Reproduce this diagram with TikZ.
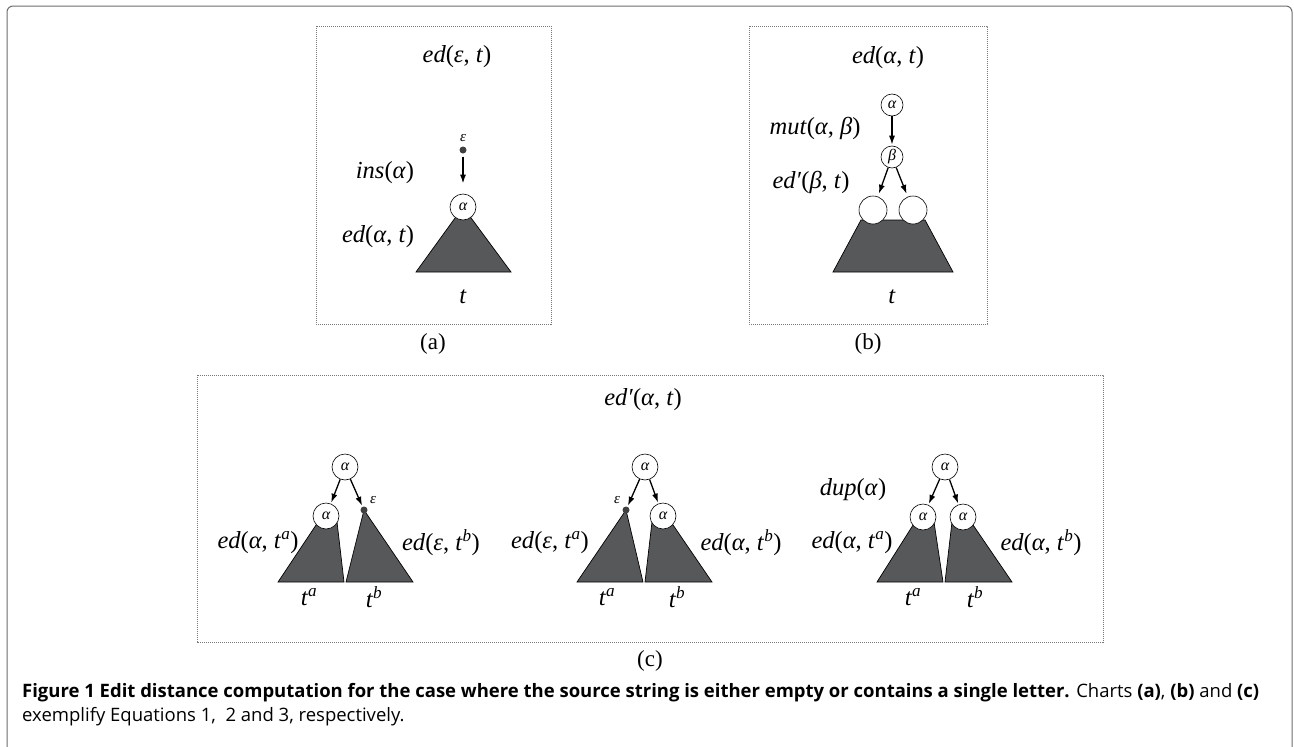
\documentclass[tikz,border=0pt]{standalone}
\usepackage{fontspec}
\usepackage{graphicx}
\setmainfont{Liberation Serif}
\newfontfamily\capfont{Open Sans}
\usetikzlibrary{arrows.meta}
\definecolor{treefill}{RGB}{87,88,90}
\definecolor{framegray}{RGB}{110,110,110}
\definecolor{dashgray}{RGB}{120,120,120}
\newsavebox\capone
\newsavebox\captwo
\newlength\capw
\newcommand\prm{′}
\begin{document}
\sbox\capone{\fontsize{18.5}{22}\capfont\textbf{Figure 1 Edit distance computation for the case where the source string is either empty or contains a single letter.} Charts \textbf{(a)}, \textbf{(b)} and \textbf{(c)}}%
\sbox\captwo{\fontsize{18.5}{22}\capfont exemplify Equations 1,\ \ 2 and 3, respectively.}%
\setlength\capw{\wd\capone}%
\pgfmathsetmacro\capf{1237/\capw}%
\begin{tikzpicture}[x=1pt,y=-1pt,
  lab/.style={font=\fontsize{24.5}{28}\selectfont, inner sep=0pt},
  sublab/.style={font=\fontsize{23}{26}\selectfont, inner sep=0pt},
  nd/.style={circle, draw, fill=white, line width=0.6pt, inner sep=0pt, minimum size=#1, font=\fontsize{16}{16}\selectfont\itshape},
  nd/.default=26pt,
  dotnode/.style={circle, fill=black!75, inner sep=0pt, minimum size=7pt},
  epslab/.style={font=\fontsize{15}{15}\selectfont\itshape, inner sep=0pt},
  tree/.style={fill=treefill, draw=black, line width=0.7pt},
  arr/.style={-{Latex[length=9pt,width=6pt]}, line width=1.3pt, shorten >=1pt},
  dbox/.style={draw=dashgray, line width=0.9pt, dash pattern=on 1.2pt off 0.8pt},
]
\useasboundingbox (0,0) rectangle (1294,747);
\fill[white] (0,0) rectangle (1294,747);
% outer frame
\draw[framegray, line width=1pt, rounded corners=6pt] (7,770) -- (7,6) -- (1292,6) -- (1292,770);

% dashed boxes
\draw[dbox] (316,26) rectangle (551,324);
\draw[dbox] (749,26) rectangle (987,324);
\draw[dbox] (197,375) rectangle (1103,642);
\node[sublab] (capa) at (433,344) {(a)};
\node[sublab] (capb) at (868,344) {(b)};
\node[sublab] (capc) at (650,661) {(c)};

% ---------- (a)
\node[lab] (ta) at (457,57) {\textit{ed}(\textit{ε}, \textit{t})};
\fill[tree] (463,207) -- (416,272) -- (511,272) -- cycle;
\node[nd] (a1) at (463,207) {α};
\node[dotnode] (ea) at (463,150) {};
\node[epslab] (eal) at (463,138) {ε};
\draw[arr, line width=1.6pt, shorten <=3pt, shorten >=10pt] (ea) -- (a1);
\node[lab] (insa) at (385,173) {\textit{ins}(\textit{α})};
\node[lab] (eda) at (378,237) {\textit{ed}(\textit{α}, \textit{t})};
\node[lab] (tla) at (463,297) {\textit{t}};

% ---------- (b)
\node[lab] (tb) at (888,58) {\textit{ed}(\textit{α}, \textit{t})};
\fill[tree] (861,220) -- (833,272) -- (953,272) -- (925,220) -- cycle;
\node[nd=22pt] (b1) at (892,105) {α};
\node[nd=22pt] (b2) at (892,157) {β};
\node[nd=28pt] (b3) at (873,210) {};
\node[nd=28pt] (b4) at (913,210) {};
\draw[arr] (b1) -- (b2);
\draw[arr, shorten >=3pt] (b2) -- (b3);
\draw[arr, shorten >=3pt] (b2) -- (b4);
\node[lab] (mutb) at (815,128) {\textit{mut}(\textit{α}, \textit{β})};
\node[lab] (edb) at (811,182) {\textit{ed\prm}(\textit{β}, \textit{t})};
\node[lab] (tlb) at (892,297) {\textit{t}};

% ---------- (c)
\node[lab] (tc) at (643,400) {\textit{ed\prm}(\textit{α}, \textit{t})};

% tree 1
\fill[tree] (278,582) -- (344,582) -- (337,522) -- (318,522) -- cycle;
\fill[tree] (364,510) -- (346,582) -- (413,582) -- cycle;
\node[nd] (r1) at (345,467) {α};
\node[nd] (c1a) at (326,516) {α};
\node[dotnode] (c1b) at (364,510) {};
\node[epslab] (e1) at (373,500) {ε};
\draw[arr] (r1) -- (c1a);
\draw[arr] (r1) -- (c1b);
\node[lab] (l1a) at (258,543) {\textit{ed}(\textit{α}, \textit{t}\textsuperscript{\textit{a}})};
\node[lab] (l1b) at (441,543) {\textit{ed}(\textit{ε}, \textit{t}\textsuperscript{\textit{b}})};
\node[lab] (t1a) at (309,597) {\textit{t}\textsuperscript{\textit{a}}};
\node[lab] (t1b) at (374,597) {\textit{t}\textsuperscript{\textit{b}}};

% tree 2
\fill[tree] (626,510) -- (577,582) -- (643,582) -- cycle;
\fill[tree] (645,582) -- (712,582) -- (671,522) -- (652,522) -- cycle;
\node[nd] (r2) at (645,467) {α};
\node[dotnode] (c2a) at (626,510) {};
\node[nd] (c2b) at (663,516) {α};
\node[epslab] (e2) at (617,500) {ε};
\draw[arr] (r2) -- (c2a);
\draw[arr] (r2) -- (c2b);
\node[lab] (l2a) at (550,543) {\textit{ed}(\textit{ε}, \textit{t}\textsuperscript{\textit{a}})};
\node[lab] (l2b) at (741,543) {\textit{ed}(\textit{α}, \textit{t}\textsuperscript{\textit{b}})};
\node[lab] (t2a) at (607,597) {\textit{t}\textsuperscript{\textit{a}}};
\node[lab] (t2b) at (677,597) {\textit{t}\textsuperscript{\textit{b}}};

% tree 3
\fill[tree] (877,582) -- (943,582) -- (934,522) -- (915,522) -- cycle;
\fill[tree] (945,582) -- (1012,582) -- (971,522) -- (952,522) -- cycle;
\node[nd] (r3) at (945,467) {α};
\node[nd] (c3a) at (923,517) {α};
\node[nd] (c3b) at (963,517) {α};
\draw[arr] (r3) -- (c3a);
\draw[arr] (r3) -- (c3b);
\node[lab] (dup) at (853,490) {\textit{dup}(\textit{α})};
\node[lab] (l3a) at (852,543) {\textit{ed}(\textit{α}, \textit{t}\textsuperscript{\textit{a}})};
\node[lab] (l3b) at (1041,543) {\textit{ed}(\textit{α}, \textit{t}\textsuperscript{\textit{b}})};
\node[lab] (t3a) at (913,597) {\textit{t}\textsuperscript{\textit{a}}};
\node[lab] (t3b) at (975,597) {\textit{t}\textsuperscript{\textit{b}}};

% caption
\node[anchor=base west, inner sep=0pt] (cap1) at (22,697) {\scalebox{\capf}[1]{\usebox\capone}};
\node[anchor=base west, inner sep=0pt] (cap2) at (22,721) {\scalebox{\capf}[1]{\usebox\captwo}};
\end{tikzpicture}
\end{document}
